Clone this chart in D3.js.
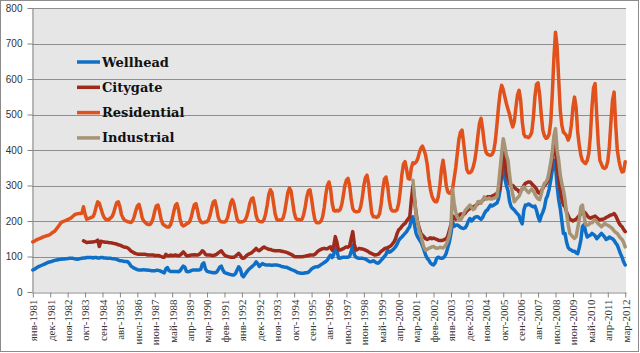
<!DOCTYPE html>
<html>
<head>
<meta charset="utf-8">
<script src="https://cdn.jsdelivr.net/npm/d3@7/dist/d3.min.js"></script>
<style>
body { margin: 0; background: #fff; }
svg { display: block; }
.yLab { font-family: "Liberation Sans", Arial, sans-serif; font-size: 10px; fill: #333; }
.xLab { font-family: "Liberation Serif", "Times New Roman", serif; font-size: 11px; fill: #333; }
.legendText { font-family: "DejaVu Serif", serif; font-weight: bold; font-size: 13px; fill: #111; }
</style>
</head>
<body>
<svg id="chart" width="640" height="353"></svg>
<script>
// monthly, jan-1981 .. mar-2012 (375 months)
const wellhead = [
  62,64,67,70,72,74,76,78,80,82,84,85,
  86,88,89,90,91,92,92,93,93,94,94,95,
  95,95,94,93,92,93,94,95,96,96,97,97,
  97,97,96,97,97,96,96,97,97,96,96,95,
  95,95,94,94,93,92,90,88,88,87,86,86,
  85,80,73,70,67,65,63,62,62,62,63,62,
  62,61,61,60,60,60,61,61,60,58,56,54,
  65,69,60,58,58,58,58,58,57,60,67,73,
  70,58,57,58,60,62,62,62,62,62,64,78,
  82,65,58,57,56,55,54,54,56,62,70,73,
  62,55,53,52,50,49,48,48,52,62,71,65,
  48,43,50,56,62,66,70,74,78,85,80,72,
  76,80,78,76,76,76,76,75,76,76,76,75,
  74,72,71,70,70,68,66,64,62,60,58,55,
  54,53,53,53,54,54,56,60,65,68,70,71,
  71,74,77,80,83,86,90,98,104,97,105,140,
  118,96,95,97,98,98,98,98,100,115,132,105,
  98,96,95,95,95,94,93,90,87,85,86,88,
  85,82,81,85,90,95,100,106,118,112,114,118,
  122,127,135,145,151,155,160,165,170,178,184,205,
  212,188,165,155,148,141,130,118,104,95,90,82,
  78,76,82,95,98,96,95,96,100,109,125,141,
  165,198,185,188,189,186,182,180,179,181,188,200,
  207,200,205,210,212,212,208,205,210,220,228,231,
  238,245,242,245,248,250,262,287,330,371,320,300,
  285,255,240,235,231,225,220,215,200,192,230,245,
  245,248,245,242,240,242,230,212,200,215,225,238,
  262,272,290,315,345,371,355,300,260,235,200,165,
  165,140,125,120,118,115,115,110,108,125,146,185,
  190,170,155,158,160,165,162,158,150,155,160,165,
  160,155,148,150,155,152,150,145,138,132,120,108,
  98,85,76
];

// citygate starts sep-1983
const citygateStart = 32;
const citygate = [
  144,142,139,140,
  140,141,141,142,143,146,128,143,142,141,140,140,
  139,139,138,137,136,135,133,132,130,128,126,126,
  124,120,115,113,110,108,107,106,106,106,106,106,
  105,104,104,104,104,103,103,103,102,100,98,98,
  106,103,102,104,103,103,104,103,102,104,108,113,
  108,102,102,103,104,104,105,104,104,106,110,116,
  113,106,104,104,104,103,103,104,106,110,113,116,
  110,104,102,100,99,98,98,98,101,105,109,104,
  96,95,98,103,106,108,110,114,118,123,118,116,
  120,124,127,124,122,120,120,118,117,116,116,116,
  116,115,114,113,112,110,108,106,104,100,99,99,
  99,99,99,100,101,102,103,104,104,104,106,110,
  115,118,120,122,123,122,122,125,127,118,130,156,
  140,118,118,120,122,125,127,126,130,150,170,135,
  118,120,123,122,121,120,118,116,113,110,108,106,
  104,105,106,110,115,118,122,124,125,127,130,135,
  141,150,165,175,179,185,190,193,200,206,212,260,
  300,260,221,195,180,165,160,155,150,148,150,153,
  150,152,150,148,146,145,145,146,148,150,158,174,
  190,215,210,205,210,215,220,220,218,222,228,232,
  235,238,240,242,245,249,252,255,258,262,265,268,
  268,268,270,272,275,278,285,292,350,420,390,330,
  320,305,300,300,295,290,288,282,285,290,300,306,
  308,310,310,305,300,296,290,280,278,285,292,300,
  305,312,328,345,385,418,395,353,320,287,262,245,
  240,225,215,205,203,200,203,205,210,215,220,226,
  226,222,215,210,208,210,212,214,210,206,203,205,
  205,207,210,212,215,217,218,221,215,205,195,188,
  184,176,170
];

const residential = [
  141,143,146,148,150,152,154,156,157,159,160,162,
  166,169,172,178,184,190,196,198,200,202,204,206,
  208,212,216,219,220,221,221,222,240,220,205,207,
  208,210,212,222,240,254,250,235,221,210,205,204,
  204,208,212,222,238,252,254,240,218,208,202,200,
  198,197,196,200,212,228,242,247,232,210,200,196,
  192,190,190,196,208,228,243,245,228,205,192,188,
  185,183,183,190,205,226,244,249,232,205,190,186,
  188,192,194,198,210,230,246,249,230,208,198,195,
  196,197,198,204,218,238,254,257,238,212,200,198,
  197,197,200,210,230,252,260,248,226,205,198,197,
  198,199,202,212,228,250,262,265,244,215,202,199,
  198,198,204,220,245,275,288,280,250,220,205,202,
  203,203,208,225,252,280,293,285,255,225,208,204,
  204,203,205,218,240,268,285,288,262,230,205,196,
  195,196,200,212,238,275,300,310,290,250,230,228,
  230,228,232,245,270,300,315,320,300,262,235,228,
  226,226,228,240,265,300,322,329,305,260,222,212,
  212,210,212,222,250,290,318,324,300,260,235,228,
  228,228,232,250,285,330,360,367,345,320,318,350,
  364,362,366,375,392,405,411,400,385,360,320,290,
  270,260,254,254,268,300,345,371,340,300,282,278,
  280,290,320,350,390,430,450,456,420,380,345,336,
  336,340,352,370,400,440,475,489,460,420,395,388,
  386,385,388,398,425,470,520,560,582,570,550,531,
  515,500,480,465,480,520,555,568,540,480,445,437,
  437,435,440,450,490,550,585,589,555,500,456,440,
  433,435,445,480,560,660,732,690,600,512,470,450,
  446,440,428,440,470,520,549,520,450,413,385,370,
  365,362,370,390,440,520,575,587,500,420,371,360,
  350,348,352,368,410,480,540,563,470,400,371,350,
  338,340,367
];

// industrial starts jan-2001
const industrialStart = 240;
const industrial = [
  315,265,215,195,170,160,140,125,118,120,123,125,
  127,128,125,123,124,126,125,124,128,135,145,160,
  185,290,250,225,210,205,203,210,220,230,235,240,
  245,238,232,235,245,254,255,250,258,268,262,262,
  265,262,262,264,266,268,300,345,390,432,410,385,
  371,330,296,275,254,260,265,270,280,292,296,290,
  285,280,285,290,285,275,268,262,260,275,295,306,
  310,318,340,365,395,440,460,400,371,330,305,287,
  260,221,190,165,160,155,151,156,180,203,240,245,
  215,190,188,190,195,195,200,203,198,192,188,184,
  188,193,190,188,185,182,178,172,168,165,158,152,
  148,140,127
];

const monthCount = 375;
const tickLabels = ['янв-1981','дек-1981','ноя-1982','окт-1983','сен-1984','авг-1985','июл-1986',
  'июн-1987','май-1988','апр-1989','мар-1990','фев-1991','янв-1992','дек-1992','ноя-1993',
  'окт-1994','сен-1995','авг-1996','июл-1997','июн-1998','май-1999','апр-2000','мар-2001',
  'фев-2002','янв-2003','дек-2003','ноя-2004','окт-2005','сен-2006','авг-2007','июл-2008',
  'июн-2009','май-2010','апр-2011','мар-2012'];
const tickStep = 11;
const yTicks = [0,100,200,300,400,500,600,700,800];

const seriesNames = ['Wellhead','Citygate','Residential','Industrial'];
const seriesColors = ['#0f6fc6','#9e2a1b','#e0511b','#a89474'];

class PriceChart {
    constructor(svgID) {
        this.svg = d3.select('#' + svgID);
        this.left = 32; this.right = 626;
        this.top = 8; this.bottom = 292;

        this.xScale = d3.scaleLinear()
                        .domain([-0.5, monthCount - 0.5])
                        .range([this.left, this.right]);
        this.yScale = d3.scaleLinear()
                        .domain([0, 800])
                        .range([this.bottom, this.top]);
        this.draw();
    }

    draw() {
        let svg = this.svg;
        svg.append('rect')
            .attr('x', 0.5).attr('y', 0.5).attr('width', 638).attr('height', 351)
            .attr('fill', '#fff').attr('stroke', '#8c8c8c');
        svg.append('rect')
            .attr('x', this.left).attr('y', this.top)
            .attr('width', this.right - this.left).attr('height', this.bottom - this.top)
            .attr('fill', '#e6e6e6');

        svg.append('g').classed('grid', true).selectAll('line')
            .data(yTicks.filter(v => v > 0))
            .enter().append('line')
            .attr('x1', this.left).attr('x2', this.right)
            .attr('y1', d => Math.round(this.yScale(d)) + 0.5)
            .attr('y2', d => Math.round(this.yScale(d)) + 0.5)
            .attr('stroke', '#8e8e8e');

        let yAxis = d3.axisLeft(this.yScale).tickValues(yTicks).tickSize(5).tickSizeOuter(0);
        let yG = svg.append('g').attr('transform', 'translate(' + (this.left + 0.5) + ',0)').call(yAxis);
        yG.selectAll('text').attr('class', 'yLab').attr('x', -10).attr('fill', null);

        let tickIdx = tickLabels.map((t, k) => k * tickStep);
        let xAxis = d3.axisBottom(this.xScale)
                        .tickValues(tickIdx)
                        .tickFormat((d, k) => tickLabels[k])
                        .tickSize(5).tickSizeOuter(0);
        let xG = svg.append('g').attr('transform', 'translate(0,' + (this.bottom + 0.5) + ')').call(xAxis);
        xG.selectAll('text')
            .attr('class', 'xLab').attr('fill', null)
            .attr('transform', 'rotate(-90)')
            .attr('x', -7).attr('y', 0).attr('dy', '0.35em')
            .style('text-anchor', 'end');
        svg.selectAll('.domain, .tick line').attr('stroke', '#868686');
        svg.selectAll('.tick text').attr('font-family', null).attr('font-size', null);

        let line = d3.line()
            .x(d => this.xScale(d.i))
            .y(d => this.yScale(d.v));

        let series = [
            wellhead.map((v, j) => ({i: j, v: v})),
            citygate.map((v, j) => ({i: citygateStart + j, v: v})),
            residential.map((v, j) => ({i: j, v: v})),
            industrial.map((v, j) => ({i: industrialStart + j, v: v}))
        ];
        svg.append('g').classed('lines', true).selectAll('path')
            .data(series)
            .enter().append('path')
            .attr('d', line)
            .attr('fill', 'none')
            .attr('stroke', (d, k) => seriesColors[k])
            .attr('stroke-width', 3.5)
            .attr('stroke-linejoin', 'round')
            .attr('stroke-linecap', 'round');

        let legend = svg.append('g').attr('transform', 'translate(77,62)');
        let item = legend.selectAll('g').data(seriesNames)
            .enter().append('g')
            .attr('transform', (d, k) => 'translate(0,' + (k * 25.3) + ')');
        item.append('line')
            .attr('x1', 0).attr('x2', 23).attr('y1', 0).attr('y2', 0)
            .attr('stroke', (d, k) => seriesColors[k])
            .attr('stroke-width', 3.5);
        item.append('text').attr('class', 'legendText')
            .attr('x', 25).attr('dy', '0.35em')
            .text(d => d);
    }
}

new PriceChart('chart');
</script>
</body>
</html>
